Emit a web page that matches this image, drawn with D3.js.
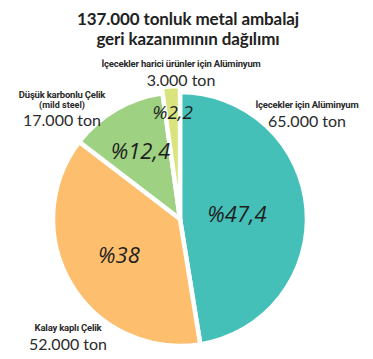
<!DOCTYPE html>
<html><head><meta charset="utf-8">
<script src="https://cdn.jsdelivr.net/npm/d3@7"></script>
<style>
html,body{margin:0;padding:0;background:#fff;}
svg{display:block;}
</style>
</head><body>
<svg id="chart" width="373" height="359"></svg>
<script>
// ---- data ----
const categories = ["İçecekler için Alüminyum", "Kalay kaplı Çelik", "Düşük karbonlu Çelik", "İçecekler harici ürünler için Alüminyum"];
const subLabels = ["", "", "(mild steel)", ""];
const tons = [65000, 52000, 17000, 3000];
const tonLabels = ["65.000 ton", "52.000 ton", "17.000 ton", "3.000 ton"];
const percentLabels = ["%47,4", "%38", "%12,4", "%2,2"];
const colors = ["#44c0b9", "#fdbe6e", "#9ed282", "#dae47e"];
const titleLines = ["137.000 tonluk metal ambalaj", "geri kazanımının dağılımı"];

// ---- layout ----
const svg = d3.select("#chart");
const cx = 180, cy = 219, R = 127;

svg.append("g").selectAll("text").data(titleLines).join("text")
  .attr("x", 188).attr("y", (d, i) => 25 + i * 20)
  .attr("text-anchor", "middle")
  .attr("font-family", "Lato, 'Open Sans', sans-serif")
  .attr("font-weight", 700).attr("font-size", 17).attr("letter-spacing", -0.1)
  .attr("fill", "#222")
  .text(d => d);

const data = categories.map((c, i) => ({ cat: c, value: tons[i], color: colors[i], pct: percentLabels[i], i }));
const pie = d3.pie().value(d => d.value).sort(null).startAngle(0).endAngle(2 * Math.PI);
const arcs = pie(data);
const outerR = [R, R, R, R + 6];
const arc = d3.arc().innerRadius(0).outerRadius((d) => outerR[d.index]);

const g = svg.append("g").attr("transform", `translate(${cx},${cy})`);
g.selectAll("path").data(arcs).join("path")
  .attr("d", arc)
  .attr("fill", d => d.data.color)
  .attr("stroke", "#fff").attr("stroke-width", 4.5).attr("stroke-linejoin", "miter");

// percentage labels placed on arcs
const labelRadiusFactor = [0.45, 0.56, 0.62, 0.84];
const pctSize = [22, 22, 22, 19];
g.selectAll("text.pct").data(arcs).join("text")
  .attr("class", "pct")
  .attr("transform", d => {
    const r = R * labelRadiusFactor[d.index];
    const c = d3.arc().innerRadius(r).outerRadius(r).centroid(d);
    return `translate(${c[0]},${c[1]})`;
  })
  .attr("text-anchor", "middle").attr("dy", "0.35em")
  .attr("font-family", "'Open Sans', sans-serif")
  .attr("font-style", "italic").attr("font-size", (d) => pctSize[d.index])
  .attr("fill", "#1e1e1e")
  .text(d => d.data.pct);

// outside category labels (annotation positions)
const annPos = [
  { x: 307, y: 108 },
  { x: 68, y: 331 },
  { x: 62, y: 98 },
  { x: 181, y: 67 }
];
const ann = svg.append("g").selectAll("g").data(data).join("g")
  .attr("transform", (d, i) => `translate(${annPos[i].x},${annPos[i].y})`);
ann.append("text")
  .attr("text-anchor", "middle")
  .attr("font-family", "'Liberation Sans Narrow', 'Roboto', sans-serif")
  .attr("font-weight", 700).attr("font-size", 9.5).attr("letter-spacing", -0.2)
  .attr("fill", "#2a2a2a")
  .text(d => d.cat);
ann.filter(d => subLabels[d.i] !== "").append("text")
  .attr("y", 10).attr("text-anchor", "middle")
  .attr("font-family", "'Liberation Sans Narrow', 'Roboto', sans-serif")
  .attr("font-weight", 700).attr("font-size", 9)
  .attr("fill", "#2a2a2a")
  .text(d => subLabels[d.i]);
ann.append("text")
  .attr("y", (d) => subLabels[d.i] !== "" ? 28 : 19)
  .attr("text-anchor", "middle")
  .attr("font-family", "Lato, sans-serif")
  .attr("font-weight", 400).attr("font-size", 16)
  .attr("fill", "#2b2b2b")
  .text(d => tonLabels[d.i]);
</script>
</body></html>
